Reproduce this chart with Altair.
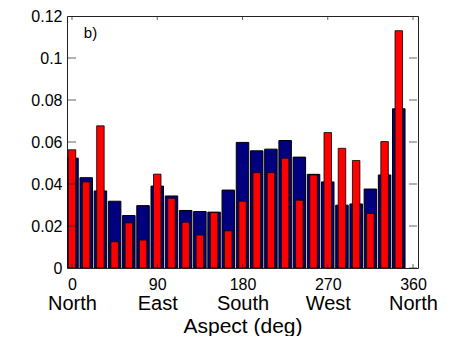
import altair as alt
import pandas as pd

aspect = list(range(0, 360, 15))
blue = [0.0523, 0.0430, 0.0367, 0.0318, 0.0250, 0.0297, 0.0390, 0.0343,
        0.0274, 0.0269, 0.0266, 0.0371, 0.0598, 0.0558, 0.0566, 0.0607,
        0.0528, 0.0446, 0.0410, 0.0299, 0.0305, 0.0376, 0.0443, 0.0758]
red = [0.0563, 0.0410, 0.0677, 0.0125, 0.0215, 0.0133, 0.0447, 0.0332,
       0.0218, 0.0157, 0.0264, 0.0177, 0.0318, 0.0454, 0.0454, 0.0523,
       0.0323, 0.0443, 0.0645, 0.0570, 0.0512, 0.0260, 0.0602, 0.1130]
x_ticks = [0, 90, 180, 270, 360]
x_names = ["North", "East", "South", "West", "North"]
y_ticks = [0, 0.02, 0.04, 0.06, 0.08, 0.1, 0.12]
panel_label = "b)"

FONT = "Liberation Sans"
EDGE = "#222222"

df = pd.DataFrame({"aspect": aspect, "blue": blue, "red": red})

nested = "''"
for v, n in reversed(list(zip(x_ticks, x_names))):
    nested = f"(datum.value == {v} ? '{n}' : {nested})"

xscale = alt.Scale(domain=[0, 360], nice=False, zero=False)
yscale = alt.Scale(domain=[0, 0.12], nice=False)

# numbers axis
xaxis = alt.Axis(orient="bottom", values=x_ticks, title=None, grid=False,
                 ticks=False, labelFontSize=16, labelPadding=8,
                 labelColor="black", domain=True, domainColor=EDGE,
                 labelFont=FONT, labelFlush=False, labelOverlap=False)
# direction names axis (below the numbers)
xaxis_dir = alt.Axis(orient="bottom", values=x_ticks, title="Aspect (deg)",
                     labelExpr=nested, grid=False, ticks=False, domain=False,
                     offset=23, labelFontSize=20, labelPadding=2,
                     labelColor="black", labelFont=FONT, labelFlush=False,
                     labelOverlap=False, titleFontSize=21, titlePadding=2,
                     titleColor="black", titleFont=FONT,
                     titleFontWeight="normal")
yaxis = alt.Axis(orient="left", values=y_ticks, title=None, grid=False,
                 ticks=False, labelExpr="format(datum.value, '~g')",
                 labelFontSize=16, labelPadding=5, labelColor="black",
                 domain=True, domainColor=EDGE, labelFont=FONT)
xaxis_top = alt.Axis(orient="top", labels=False, ticks=False, grid=False,
                     title=None, domain=True, domainColor=EDGE)
yaxis_right = alt.Axis(orient="right", labels=False, ticks=False, grid=False,
                       title=None, domain=True, domainColor=EDGE)

base = alt.Chart(df)

blue_bars = base.mark_bar(color="#00007F", stroke="black", strokeWidth=1,
                          size=12.5, clip=True).encode(
    x=alt.X("aspect:Q", scale=xscale, axis=xaxis),
    y=alt.Y("blue:Q", scale=yscale, axis=yaxis),
)
red_bars = base.mark_bar(color="#FF0000", stroke="black", strokeWidth=0.8,
                         size=7.5, clip=True).encode(
    x=alt.X("aspect:Q", scale=xscale, axis=xaxis_dir),
    y=alt.Y("red:Q", scale=yscale, axis=None),
)

xt = pd.DataFrame({"t": x_ticks * 2, "yy": [0.0] * 5 + [0.12] * 5})
yt = pd.DataFrame({"t": y_ticks * 2, "xx": [0] * 7 + [360] * 7})

xtick_marks = alt.Chart(xt).mark_tick(orient="vertical", size=8, clip=True,
                                      color=EDGE, thickness=1).encode(
    x=alt.X("t:Q", scale=xscale, axis=xaxis_top),
    y=alt.Y("yy:Q", scale=yscale, axis=yaxis_right))
ytick_marks = alt.Chart(yt).mark_tick(orient="horizontal", size=8, clip=True,
                                      color=EDGE, thickness=1).encode(
    x=alt.X("xx:Q", scale=xscale, axis=None),
    y=alt.Y("t:Q", scale=yscale, axis=None))

label = alt.Chart(pd.DataFrame({"t": [panel_label], "x": [12.5], "y": [0.112]})).mark_text(
    align="left", baseline="middle", fontSize=15, font=FONT, color="black").encode(
    x=alt.X("x:Q", scale=xscale, axis=None), y=alt.Y("y:Q", scale=yscale, axis=None),
    text="t:N")

chart = alt.layer(blue_bars, red_bars, xtick_marks, ytick_marks, label).resolve_axis(
    x="independent", y="independent"
).properties(
    width=351, height=252,
    autosize=alt.AutoSizeParams(type="none"),
    padding={"left": 59, "top": 8, "right": 27, "bottom": 68},
).configure_view(stroke=None).configure(background="white")

chart.save("out.html", embed_options={"renderer": "svg", "actions": False})
